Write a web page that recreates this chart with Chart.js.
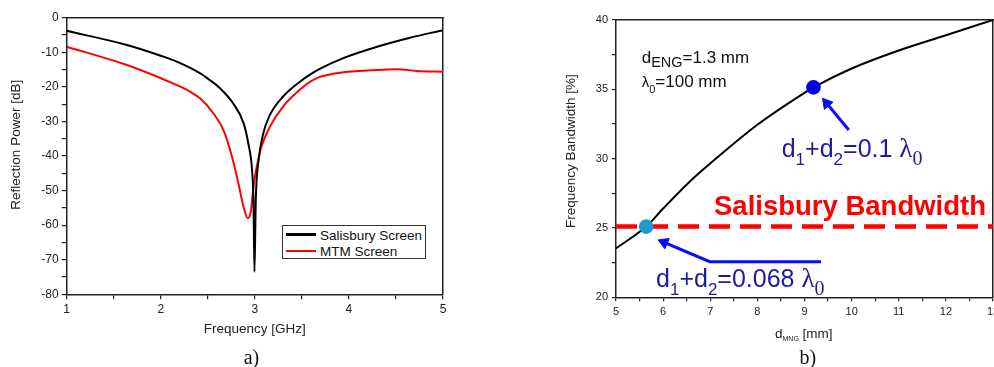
<!DOCTYPE html>
<html><head><meta charset="utf-8">
<script src="https://cdn.jsdelivr.net/npm/chart.js@4.4.1/dist/chart.umd.min.js"></script>
<style>
html,body{margin:0;padding:0;background:#fff;overflow:hidden;}
#wrap{position:relative;width:994px;height:367px;overflow:hidden;font-family:Arial,"Liberation Sans",sans-serif;}
#cA{position:absolute;left:0;top:0;width:460px;height:367px;}
#cB{position:absolute;left:530px;top:0;width:510px;height:367px;}
.t{position:absolute;white-space:nowrap;line-height:1;}
.t span{position:relative;}
.serif{font-family:"Liberation Serif","Times New Roman",serif;}
.lg{position:absolute;box-sizing:border-box;border:1px solid #333;background:#fff;}
.sw{position:absolute;height:2.5px;}
</style></head><body>
<div id="wrap">
<canvas id="cA" width="460" height="367"></canvas>
<canvas id="cB" width="510" height="367"></canvas>
</div>
<script>
// ---------- data: chart a) ----------
const freqSalisbury = [1.0, 1.64, 2.0, 2.17, 2.42, 2.52, 2.63, 2.77, 2.88, 2.93, 2.97, 2.985, 2.996, 3.01, 3.04, 3.09, 3.16, 3.30, 3.48, 3.59, 3.69, 3.94, 4.30, 4.65, 5.0];
const dbSalisbury   = [-3.8, -7.9, -11.0, -12.7, -16.1, -18.0, -20.4, -24.8, -30.5, -36.3, -44.0, -52.7, -73.5, -52.7, -41.2, -33.4, -28.1, -22.8, -18.5, -16.4, -14.8, -11.7, -8.4, -5.8, -3.6];
const freqMTM = [1.0, 1.64, 2.17, 2.3, 2.42, 2.56, 2.67, 2.755, 2.825, 2.88, 2.925, 2.96, 2.985, 3.02, 3.07, 3.16, 3.30, 3.48, 3.59, 3.69, 3.77, 3.94, 4.30, 4.51, 4.72, 5.0];
const dbMTM   = [-8.4, -13.7, -19.5, -21.2, -23.4, -27.7, -32.7, -40.0, -47.9, -54.7, -58.0, -55.6, -48.9, -43.1, -37.3, -31.5, -25.7, -20.8, -18.5, -17.1, -16.6, -15.8, -15.1, -14.9, -15.4, -15.6];
const seriesNamesA = ['Salisbury Screen', 'MTM Screen'];
const freqRange = [1, 5];
const dbRange = [-80, 0];

// ---------- data: chart b) ----------
const dMNG      = [5, 5.64, 6, 6.6, 7, 8, 9, 9.19, 10, 11, 12, 13];
const bandwidth = [23.53, 25.1, 26.4, 28.46, 29.66, 32.45, 34.75, 35.14, 36.5, 37.8, 38.9, 40.0];
const salisburyBW = [25.1, 25.1];
const salisburyD  = [5, 13];
const markerD  = [9.19, 5.64];
const markerBW = [35.14, 25.1];
const arrow1D  = [9.94, 9.47];
const arrow1BW = [32.07, 33.99];
const arrow2D  = [9.35, 6.99, 6.02];
const arrow2BW = [22.57, 22.57, 23.96];
const dRange = [5, 13];
const bwRange = [20, 40];

const FONT = 'Arial, "Liberation Sans", sans-serif';
Chart.defaults.font.family = FONT;
const AX = '#222';
const pts = (xs, ys) => xs.map((x, i) => ({x, y: ys[i]}));

function frameAxis(pos, range) {
  return {
    type: 'linear', position: pos, min: range[0], max: range[1], display: true,
    ticks: {display: false}, grid: {display: false, drawTicks: false},
    border: {display: true, color: AX, width: 1.5},
    afterFit: s => { if (s.isHorizontal()) s.height = 0; else s.width = 0; }
  };
}

// ---------- chart a) ----------
const chartA = new Chart(document.getElementById('cA'), {
  type: 'scatter',
  data: {
    datasets: [
      {label: seriesNamesA[0], data: pts(freqSalisbury, dbSalisbury), showLine: true, borderColor: '#000000', backgroundColor: '#000000', borderWidth: 2, pointRadius: 0, cubicInterpolationMode: 'monotone'},
      {label: seriesNamesA[1], data: pts(freqMTM, dbMTM), showLine: true, borderColor: '#ff0000', backgroundColor: '#ff0000', borderWidth: 2, pointRadius: 0, cubicInterpolationMode: 'monotone'}
    ]
  },
  options: {
    responsive: false, animation: false, events: [],
    layout: {padding: {left: 0, top: 17.7, right: 17, bottom: 0}},
    plugins: {legend: {display: false}, tooltip: {enabled: false}},
    scales: {
      x: {
        type: 'linear', position: 'bottom', min: freqRange[0], max: freqRange[1],
        ticks: {stepSize: 0.5, autoSkip: false, maxRotation: 0, padding: 3, color: AX, font: {size: 12},
          callback: v => Number.isInteger(v) ? String(v) : ''},
        grid: {drawOnChartArea: false, color: AX, tickLength: 5, lineWidth: 1.2},
        border: {color: AX, width: 1.5},
        title: {display: true, text: 'Frequency [GHz]', color: AX, font: {size: 13.5}, padding: {top: 0, bottom: 30}},
        afterFit: s => { s.height = 72.7; }
      },
      y: {
        type: 'linear', position: 'left', min: dbRange[0], max: dbRange[1],
        ticks: {stepSize: 5, autoSkip: false, padding: 3, color: AX, font: {size: 12},
          callback: v => (v % 10 === 0) ? String(v) : ''},
        grid: {drawOnChartArea: false, color: AX, tickLength: 5, lineWidth: 1.2},
        border: {color: AX, width: 1.5},
        title: {display: true, text: '      Reflection Power [dB]', color: AX, font: {size: 13.5}, padding: {top: 8, bottom: 0}},
        afterFit: s => { s.width = 66.7; }
      },
      x2: frameAxis('top', freqRange),
      y2: frameAxis('right', dbRange)
    }
  }
});

// ---------- chart b) ----------
const chartB = new Chart(document.getElementById('cB'), {
  type: 'scatter',
  data: {
    datasets: [
      {label: 'points', data: pts(markerD, markerBW), showLine: false, pointRadius: 7.3, pointBorderWidth: 0,
        pointBackgroundColor: ['#0000f0', '#1e9bcc'], pointBorderColor: ['#0000f0', '#1e9bcc']},
      {label: 'arrow1', data: pts(arrow1D, arrow1BW), showLine: true, borderColor: '#0a0aff', borderWidth: 3,
        pointRadius: [0, 6.5], pointStyle: 'triangle', pointRotation: -39.6, pointBackgroundColor: '#0a0aff', pointBorderColor: '#0a0aff', pointBorderWidth: 1},
      {label: 'arrow2', data: pts(arrow2D, arrow2BW), showLine: true, borderColor: '#0a0aff', borderWidth: 3,
        pointRadius: [0, 0, 6.5], pointStyle: 'triangle', pointRotation: -67.2, pointBackgroundColor: '#0a0aff', pointBorderColor: '#0a0aff', pointBorderWidth: 1},
      {label: 'bandwidth', data: pts(dMNG, bandwidth), showLine: true, borderColor: '#000000', borderWidth: 2, pointRadius: 0, cubicInterpolationMode: 'monotone'},
      {label: 'Salisbury Bandwidth', data: pts(salisburyD, salisburyBW), showLine: true, borderColor: '#ff0000', borderWidth: 4.5, borderDash: [21, 10], pointRadius: 0}
    ]
  },
  options: {
    responsive: false, animation: false, events: [],
    layout: {padding: {left: 0, top: 20, right: 47, bottom: 0}},
    plugins: {legend: {display: false}, tooltip: {enabled: false}},
    scales: {
      x: {
        type: 'linear', position: 'bottom', min: dRange[0], max: dRange[1],
        ticks: {stepSize: 0.5, autoSkip: false, maxRotation: 0, padding: 4, color: AX, font: {size: 11},
          callback: v => Number.isInteger(v) ? String(v) : ''},
        grid: {drawOnChartArea: false, color: AX, tickLength: 4, lineWidth: 1.2},
        border: {color: AX, width: 1.5},
        title: {display: false},
        afterFit: s => { s.height = 69.7; }
      },
      y: {
        type: 'linear', position: 'left', min: bwRange[0], max: bwRange[1],
        ticks: {stepSize: 2.5, autoSkip: false, padding: 4, color: AX, font: {size: 11},
          callback: v => (v % 5 === 0) ? String(v) : ''},
        grid: {drawOnChartArea: false, color: AX, tickLength: 4, lineWidth: 1.2},
        border: {color: AX, width: 1.5},
        title: {display: true, text: '    Frequency Bandwidth [%]', color: AX, font: {size: 13.5}, padding: {top: 33.6, bottom: 0}},
        afterFit: s => { s.width = 86; }
      },
      x2: frameAxis('top', dRange),
      y2: frameAxis('right', bwRange)
    }
  }
});

// ---------- HTML text overlays ----------
const wrap = document.getElementById('wrap');
function addText(html, x, baseline, style, center) {
  const d = document.createElement('div');
  d.className = 't';
  d.innerHTML = html + '<i style="display:inline-block;width:0;height:0;vertical-align:baseline"></i>';
  Object.assign(d.style, style || {});
  d.style.left = '0px'; d.style.top = '0px';
  wrap.appendChild(d);
  const base = d.lastChild.offsetTop;
  d.style.top = (baseline - base) + 'px';
  d.style.left = (center ? x - d.offsetWidth / 2 : x) + 'px';
  return d;
}

// legend of chart a)
const lg = document.createElement('div');
lg.className = 'lg';
Object.assign(lg.style, {left: '281.7px', top: '225px', width: '144px', height: '34px'});
wrap.appendChild(lg);
chartA.data.datasets.forEach((ds, i) => {
  const sw = document.createElement('div');
  sw.className = 'sw';
  Object.assign(sw.style, {left: '285.7px', width: '30.3px', top: (233.2 + i * 16.7) + 'px', background: ds.borderColor});
  wrap.appendChild(sw);
  addText(ds.label, 320, 239.5 + i * 16.7, {fontSize: '13.5px', color: '#111'});
});

// annotations of chart b)
const NAVY = '#1c1ca2';
addText('d<span style="font-size:14.5px;top:3.5px">ENG</span>=1.3 mm', 641.7, 63.3, {fontSize: '17px', color: '#111'});
addText('<span style="font-size:15px">λ</span><span style="font-size:11px;top:6px">0</span>=100 mm', 641.7, 86.7, {fontSize: '17px', color: '#111'});
addText('d<span style="font-size:17px;top:8px">1</span>+d<span style="font-size:17px;top:8px">2</span>=0.1 <span class="serif" style="font-size:27px">λ<span style="font-size:20px;top:8px">0</span></span>',
  781.7, 157.3, {fontSize: '25px', color: NAVY});
addText('Salisbury Bandwidth', 714, 215, {fontSize: '27.5px', fontWeight: 'bold', color: '#ff0000'});
addText('d<span style="font-size:17px;top:8px">1</span>+d<span style="font-size:17px;top:8px">2</span>=0.068 <span class="serif" style="font-size:27px">λ<span style="font-size:20px;top:8px">0</span></span>',
  656, 287.3, {fontSize: '25px', color: NAVY});
addText('d<span style="font-size:7px;top:3px">MNG</span> [mm]', 775, 338.3, {fontSize: '13.5px', color: AX});

// panel captions
addText('a)', 251.7, 364, {fontSize: '20px', color: '#111', fontFamily: '"Liberation Serif","Times New Roman",serif'}, true);
addText('b)', 808, 364, {fontSize: '20px', color: '#111', fontFamily: '"Liberation Serif","Times New Roman",serif'}, true);
</script>
</body></html>
